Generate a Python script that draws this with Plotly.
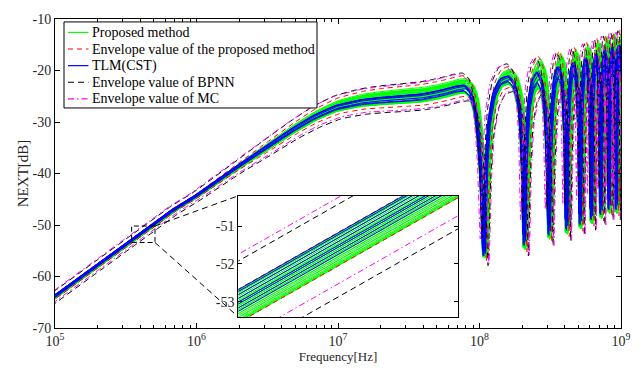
import math
import plotly.graph_objects as go

# ---------------- data ----------------
# nominal NEXT curve (frequency in Hz, level in dB)
freq_hz = [9e4, 1e5, 2e5, 3.5e5, 5.1e5, 7e5, 1e6,
           2e6, 3e6, 5e6, 7e6, 1e7, 1.5e7, 2e7, 3e7,
           4e7, 5e7, 6e7, 7e7, 8e7,
           8.8e7, 9.5e7, 1.0e8, 1.05e8, 1.1e8, 1.15e8, 1.2e8, 1.3e8, 1.45e8, 1.65e8,
           1.8e8, 1.95e8, 2.05e8, 2.12e8, 2.2e8, 2.3e8, 2.45e8, 2.65e8, 2.85e8, 3.0e8,
           3.1e8, 3.17e8, 3.25e8, 3.35e8, 3.5e8, 3.7e8, 3.9e8, 4.05e8, 4.15e8, 4.22e8,
           4.3e8, 4.4e8, 4.55e8, 4.75e8, 4.95e8, 5.1e8, 5.2e8, 5.27e8, 5.35e8, 5.45e8,
           5.6e8, 5.8e8, 6.0e8, 6.15e8, 6.25e8, 6.32e8, 6.4e8, 6.5e8, 6.65e8, 6.85e8,
           7.05e8, 7.2e8, 7.3e8, 7.37e8, 7.45e8, 7.55e8, 7.7e8, 7.9e8, 8.1e8, 8.25e8,
           8.35e8, 8.42e8, 8.5e8, 8.6e8, 8.75e8, 8.95e8, 9.15e8, 9.3e8, 9.4e8, 9.47e8,
           9.55e8, 9.65e8, 9.8e8, 1.0e9, 1.03e9, 1.06e9, 1.1e9, 1.15e9]
nominal_db = [-64.86, -63.94, -57.92, -53.06, -49.79, -47.04, -44.4,
              -38.6, -35.3, -31.2, -28.8, -26.9, -25.8, -25.4, -25.0,
              -24.7, -24.2, -23.7, -23.2, -23.0,
              -24.0, -27.0, -32.0, -40.0, -55.0, -38.0, -30.0, -24.5, -21.8, -21.2,
              -22.5, -26.5, -35.0, -52.0, -35.0, -26.0, -22.0, -20.5, -22.5, -28.0,
              -38.0, -50.0, -36.0, -27.0, -21.5, -19.5, -21.0, -27.0, -37.0, -49.0,
              -35.0, -26.0, -20.5, -18.7, -20.5, -26.0, -36.0, -48.0, -35.0, -25.0,
              -19.8, -17.8, -19.5, -25.0, -35.0, -47.0, -34.0, -24.5, -19.0, -17.0,
              -18.8, -24.5, -34.0, -46.0, -33.0, -24.0, -18.5, -16.3, -18.0, -24.0,
              -33.0, -45.0, -33.0, -23.5, -18.0, -15.8, -17.5, -23.5, -33.0, -45.0,
              -32.0, -23.0, -17.5, -15.3, -17.0, -23.0, -30.0, -20.0]
n_high = len(freq_hz) - 20
# half width of the Monte-Carlo band of the proposed method (dB)
band_halfwidth_db = ([0.4] * 7 + [0.55, 0.7, 0.9, 1.0, 1.1, 1.25, 1.35, 1.45]
                     + [1.5] * 17 + [3.0] * (n_high - 12))

# Proposed method samples: frequency scale and relative level (-1..1 of the band)
green_fscale = [0.955, 1.045, 0.980, 1.010, 0.962, 1.034, 0.992, 1.016, 0.968, 1.028,
                0.998, 1.022, 0.974, 1.040, 0.986, 1.004, 0.955, 1.045, 0.980, 1.010,
                0.962, 1.034, 0.992, 1.016, 0.968, 1.028, 0.998, 1.022, 0.974, 1.040,
                0.986, 1.004]
green_level = [0.0, -0.04, -0.31, 0.97, -0.09, -0.37, -0.92, -0.71, -0.21, -0.15,
               -0.17, 0.10, -0.82, 0.35, -0.93, 0.09, -0.75, 0.71, 0.19, -0.28,
               -0.84, 0.60, 0.78, 0.59, 0.34, 0.72, 0.45, 0.77, 0.30, -0.02,
               0.07, -0.86]
# TLM (CST) results
blue_fscale = [0.955, 0.962, 0.968, 0.975, 0.982, 0.990, 0.998, 0.958]
blue_level = [0.08, -0.59, 0.04, -0.68, 0.11, -0.09, -0.39, 0.02]

# envelopes: frequency scale and level offset (dB) along the curve
env_prop_fscale = [0.985, 1.02]
env_prop_up_db = [0.31] * 7 + [0.55, 0.8, 1.1, 1.3, 1.5, 1.7, 1.85, 1.95] + [2.0] * 17 + [3.2] * (n_high - 12)
env_prop_lo_db = [-0.27] * 7 + [-0.5, -0.8, -1.1, -1.3, -1.5, -1.7, -1.85, -1.95] + [-2.0] * 17 + [-3.2] * (n_high - 12)
env_bpnn_fscale = [0.95, 1.045]
env_bpnn_up_db = [0.74] * 7 + [1.0, 1.3, 1.6, 1.8, 2.0, 2.2, 2.35, 2.45] + [2.5] * 17 + [3.0] * (n_high - 12)
env_bpnn_lo_db = [-0.88] * 7 + [-1.2, -1.6, -2.0, -2.3, -2.5, -2.7, -2.8, -2.9] + [-2.9] * 17 + [-4.0] * (n_high - 12)
env_mc_fscale = [0.92, 1.06]
env_mc_up_db = [0.64] * 7 + [0.9, 1.1, 1.4, 1.6, 1.8, 2.0, 2.15, 2.25] + [2.3] * 17 + [3.0] * (n_high - 12)
env_mc_lo_db = [-0.41] * 7 + [-0.8, -1.2, -1.5, -1.8, -2.1, -2.3, -2.5, -2.6] + [-2.6] * 17 + [-4.0] * (n_high - 12)

# zoom window (inset)
zoom_freq = [3.48e5, 5.09e5]
zoom_db = [-53.4, -50.2]

x_ticks = [1e5, 1e6, 1e7, 1e8, 1e9]
x_ticktext = ["10<sup>5</sup>", "10<sup>6</sup>", "10<sup>7</sup>", "10<sup>8</sup>", "10<sup>9</sup>"]
y_ticks = [-70, -60, -50, -40, -30, -20, -10]
y_ticktext = ["-70", "-60", "-50", "-40", "-30", "-20", "-10"]
inset_y_ticks = [-53, -52, -51]
inset_y_ticktext = ["-53", "-52", "-51"]

legend_names = ["Proposed method", "Envelope value of the proposed method", "TLM(CST)",
                "Envelope value of BPNN", "Envelope value of MC"]

# ---------------- figure ----------------
FONT = "Liberation Serif"
COLORS = ["#00ff00", "#ff0000", "#0000ff", "#000000", "#ff00ff"]
DASHES = ["solid", "5px,4px", "solid", "6px,4px", "6px,3px,1.5px,3px"]
fig = go.Figure()

def add_curve(xs, ys, idx):
    for xa, ya in (("x", "y"), ("x2", "y2")):
        fig.add_trace(go.Scatter(
            x=xs, y=ys, mode="lines", xaxis=xa, yaxis=ya,
            line=dict(color=COLORS[idx], width=1, dash=DASHES[idx],
                      shape="spline", smoothing=0.4),
            name=legend_names[idx], showlegend=False, hoverinfo="skip"))

for k, z in zip(green_fscale, green_level):
    add_curve([f * k for f in freq_hz],
              [v + z * w for v, w in zip(nominal_db, band_halfwidth_db)], 0)

for k, off in zip(env_prop_fscale, [env_prop_up_db, env_prop_lo_db]):
    add_curve([f * k for f in freq_hz], [v + o for v, o in zip(nominal_db, off)], 1)

for k, z in zip(blue_fscale, blue_level):
    add_curve([f * k for f in freq_hz],
              [v + z * w for v, w in zip(nominal_db, band_halfwidth_db)], 2)

for k, off in zip(env_bpnn_fscale, [env_bpnn_up_db, env_bpnn_lo_db]):
    add_curve([f * k for f in freq_hz], [v + o for v, o in zip(nominal_db, off)], 3)

for k, off in zip(env_mc_fscale, [env_mc_up_db, env_mc_lo_db]):
    add_curve([f * k for f in freq_hz], [v + o for v, o in zip(nominal_db, off)], 4)

# zoom box on the main axes
fig.add_trace(go.Scatter(
    x=[zoom_freq[0], zoom_freq[1], zoom_freq[1], zoom_freq[0], zoom_freq[0]],
    y=[zoom_db[0], zoom_db[0], zoom_db[1], zoom_db[1], zoom_db[0]],
    mode="lines", line=dict(color="black", width=1, dash="5px,3px"),
    showlegend=False, hoverinfo="skip", xaxis="x", yaxis="y"))

W, H = 644, 377
ML, MR, MT, MB = 55, 23, 12, 49
PW, PH = W - ML - MR, H - MT - MB
X_RANGE = [5, 9]
Y_RANGE = [-70, -10]
INSET_X = [0.3239, 0.7125]
INSET_Y = [0.0358, 0.428]

def to_paper_x(f):
    return (math.log10(f) - X_RANGE[0]) / (X_RANGE[1] - X_RANGE[0])

def to_paper_y(v):
    return (v - Y_RANGE[0]) / (Y_RANGE[1] - Y_RANGE[0])

def px_x(p):
    return (p - ML) / PW

def px_y(p):
    return (H - MB - p) / PH

shapes = [
    dict(type="line", xref="paper", yref="paper",
         x0=to_paper_x(zoom_freq[1]), y0=to_paper_y(zoom_db[1]),
         x1=INSET_X[0], y1=INSET_Y[1],
         line=dict(color="black", width=1, dash="6px,4px")),
    dict(type="line", xref="paper", yref="paper",
         x0=to_paper_x(zoom_freq[1]), y0=to_paper_y(zoom_db[0]),
         x1=INSET_X[0], y1=INSET_Y[0],
         line=dict(color="black", width=1, dash="6px,4px")),
    # legend box
    dict(type="rect", xref="paper", yref="paper",
         x0=px_x(64), x1=px_x(317), y0=px_y(103), y1=px_y(15),
         fillcolor="white", line=dict(color="black", width=1), layer="above"),
]
annotations = []
for i, name in enumerate(legend_names):
    yc = 25.7 + 17 * i
    shapes.append(dict(type="line", xref="paper", yref="paper",
                       x0=px_x(68), x1=px_x(88.5), y0=px_y(yc), y1=px_y(yc),
                       line=dict(color=COLORS[i], width=1.2, dash=DASHES[i]), layer="above"))
    annotations.append(dict(text=name, xref="paper", yref="paper", x=px_x(89.5), y=px_y(yc),
                            xanchor="left", yanchor="middle", showarrow=False,
                            font=dict(family=FONT, size=14, color="black")))

minor_vals = [m * d for d in (1e5, 1e6, 1e7, 1e8) for m in range(2, 10)]

axis_common = dict(showline=True, linecolor="black", linewidth=1, mirror="ticks",
                   ticks="inside", tickcolor="black", showgrid=False, zeroline=False)

fig.update_layout(
    width=W, height=H,
    margin=dict(l=ML, r=MR, t=MT, b=MB),
    paper_bgcolor="white", plot_bgcolor="white",
    font=dict(family=FONT, size=14, color="#262626"),
    shapes=shapes, annotations=annotations, showlegend=False,
    xaxis=dict(type="log", range=X_RANGE, domain=[0, 1], anchor="y",
               tickvals=x_ticks, ticktext=x_ticktext, ticklen=5,
               minor=dict(tickvals=minor_vals, ticks="inside", ticklen=3, tickcolor="black"),
               title=dict(text="Frequency[Hz]", font=dict(size=13, family=FONT), standoff=2),
               **axis_common),
    yaxis=dict(range=Y_RANGE, domain=[0, 1], anchor="x", tickvals=y_ticks,
               ticktext=y_ticktext, ticklen=5,
               title=dict(text="NEXT[dB]", font=dict(size=15, family=FONT), standoff=0),
               **axis_common),
    xaxis2=dict(type="log", range=[math.log10(zoom_freq[0]), math.log10(zoom_freq[1])],
                domain=INSET_X, anchor="y2", showticklabels=False,
                showline=True, linecolor="black", linewidth=1, mirror=True,
                ticks="", showgrid=False, zeroline=False),
    yaxis2=dict(range=zoom_db, domain=INSET_Y, anchor="x2", tickvals=inset_y_ticks,
                ticktext=inset_y_ticktext, ticklen=4, **axis_common),
)

fig.write_html("out.html")
